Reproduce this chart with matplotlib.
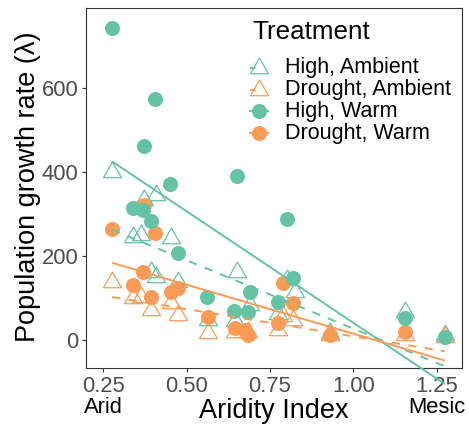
import matplotlib
matplotlib.use('Agg')
import matplotlib.pyplot as plt
import matplotlib.transforms as mtransforms
from matplotlib.lines import Line2D
import numpy as np

plt.rcParams['font.family'] = ['Liberation Sans', 'DejaVu Sans']
plt.rcParams['lines.scale_dashes'] = False

TEAL = '#66C2A5'
ORANGE = '#FC9B55'

# ---- data ----
# High, Warm (filled circles)
hw_x = [0.277, 0.406, 0.373, 0.450, 0.651, 0.800, 0.340, 0.370, 0.394, 0.474,
        0.561, 0.690, 0.642, 0.684, 0.775, 0.820, 1.154, 1.274]
hw_y = [743, 575, 462, 371, 390, 288, 314, 309, 283, 206,
        101, 113, 68, 66, 89, 147, 51, 6]
# Drought, Warm (filled circles)
dw_x = [0.277, 0.406, 0.373, 0.370, 0.340, 0.394, 0.453, 0.475, 0.564, 0.645,
        0.675, 0.685, 0.775, 0.820, 0.790, 0.930, 1.154, 1.274]
dw_y = [263, 254, 320, 161, 130, 101, 113, 123, 54, 28,
        23, 11, 39, 87, 135, 11, 18, 6]
# High, Ambient (open triangles)
ha_x = [0.277, 0.373, 0.410, 0.340, 0.364, 0.453, 0.394, 0.410, 0.475, 0.650,
        0.690, 0.800, 0.825, 0.564, 0.645, 0.775, 0.930, 1.154, 1.274]
ha_y = [400, 333, 345, 245, 249, 242, 160, 150, 137, 160,
        82, 142, 113, 47, 45, 60, 15, 66, 10]
# Drought, Ambient (open triangles)
da_x = [0.277, 0.340, 0.364, 0.394, 0.453, 0.475, 0.564, 0.645, 0.685, 0.775,
        0.820, 0.790, 0.930, 1.154, 1.274]
da_y = [137, 99, 101, 71, 87, 58, 16, 18, 18, 23,
        47, 55, 11, 11, 6]

# linear fits (intercept, slope) per treatment
fit_hw = (572.6, -533.0)
fit_dw = (247.8, -234.0)
fit_ha = (352.6, -327.0)
fit_da = (137.4, -130.0)

x_ticks = [0.25, 0.50, 0.75, 1.00, 1.25]
x_tick_labels = ['0.25', '0.50', '0.75', '1.00', '1.25']
y_ticks = [0, 200, 400, 600]
y_tick_labels = ['0', '200', '400', '600']
legend_labels = ['High, Ambient', 'Drought, Ambient', 'High, Warm', 'Drought, Warm']

# ---- figure ----
W, H = 469, 429
fig = plt.figure(figsize=(W / 100, H / 100), dpi=100)
ax = fig.add_axes([86 / W, 1 - 368 / H, 376 / W, 360 / H])
ax.set_xlim(0.199, 1.325)
ax.set_ylim(-68, 791)

tri = [(-1, -0.577), (1, -0.577), (0, 1.155), (-1, -0.577)]
TRI_MS = 15
CIR_MS = 10.8
LW = 1.4

ax.plot(ha_x, ha_y, ls='none', marker=tri, ms=TRI_MS, mfc='none', mec=TEAL, mew=0.9, zorder=2)
ax.plot(da_x, da_y, ls='none', marker=tri, ms=TRI_MS, mfc='none', mec=ORANGE, mew=0.9, zorder=2)
ax.plot(dw_x, dw_y, ls='none', marker='o', ms=CIR_MS, mfc=ORANGE, mec='none', zorder=3)
ax.plot(hw_x, hw_y, ls='none', marker='o', ms=CIR_MS, mfc=TEAL, mec='none', zorder=3)


def fitline(xs, fit, color, dashed):
    xx = np.array([min(xs), max(xs)])
    yy = fit[0] + fit[1] * xx
    kw = dict(color=color, lw=LW, zorder=4, clip_on=False, solid_capstyle='butt')
    if dashed:
        ax.plot(xx, yy, dashes=(6, 6), **kw)
    else:
        ax.plot(xx, yy, **kw)


fitline(ha_x, fit_ha, TEAL, True)
fitline(da_x, fit_da, ORANGE, True)
fitline(hw_x, fit_hw, TEAL, False)
fitline(dw_x, fit_dw, ORANGE, False)

ax.set_xticks(x_ticks)
ax.set_xticklabels(x_tick_labels)
ax.set_yticks(y_ticks)
ax.set_yticklabels(y_tick_labels)
ax.tick_params(axis='both', length=3, width=0.8, color='#333333', labelsize=15.8,
               labelcolor='#4D4D4D', pad=2.5, direction='out')
for s in ax.spines.values():
    s.set_color('#333333')
    s.set_linewidth(0.8)

blend = mtransforms.blended_transform_factory(ax.transData, fig.transFigure)

# axis titles
fig.text(274 / W, 1 - 418 / H, 'Aridity Index', ha='center', va='baseline', fontsize=19.5)
fig.text(28 / W, 1 - 187 / H, 'Population growth rate (λ)', ha='center', va='center',
         rotation=90, fontsize=19.5)
ax.text(0.25, 1 - 413 / H, 'Arid', transform=blend,
        ha='center', va='baseline', fontsize=15.8, color='black')
ax.text(1.25, 1 - 413 / H, 'Mesic', transform=blend,
        ha='center', va='baseline', fontsize=15.8, color='black')

# legend (manual)
fig.text(252 / W, 1 - 39 / H, 'Treatment', ha='left', va='baseline', fontsize=18.7)
rows_y = [68, 90, 111, 133]
styles = [(TEAL, 'tri'), (ORANGE, 'tri'), (TEAL, 'cir'), (ORANGE, 'cir')]
for lab, ry, (col, kind) in zip(legend_labels, rows_y, styles):
    yf = 1 - ry / H
    xs = [(259 - 9) / W, (259 + 9) / W]
    if kind == 'tri':
        fig.add_artist(Line2D(xs, [yf, yf], color=col, lw=LW, dashes=(4, 10),
                              transform=fig.transFigure))
        fig.add_artist(Line2D([259 / W], [yf], ls='none', marker=tri, ms=TRI_MS,
                              mfc='none', mec=col, mew=0.9, transform=fig.transFigure))
    else:
        fig.add_artist(Line2D(xs, [yf, yf], color=col, lw=LW, transform=fig.transFigure))
        fig.add_artist(Line2D([259 / W], [yf], ls='none', marker='o', ms=CIR_MS,
                              mfc=col, mec='none', transform=fig.transFigure))
    fig.text(285 / W, yf, lab, ha='left', va='center', fontsize=15.5)

fig.savefig('out.png', dpi=100)
